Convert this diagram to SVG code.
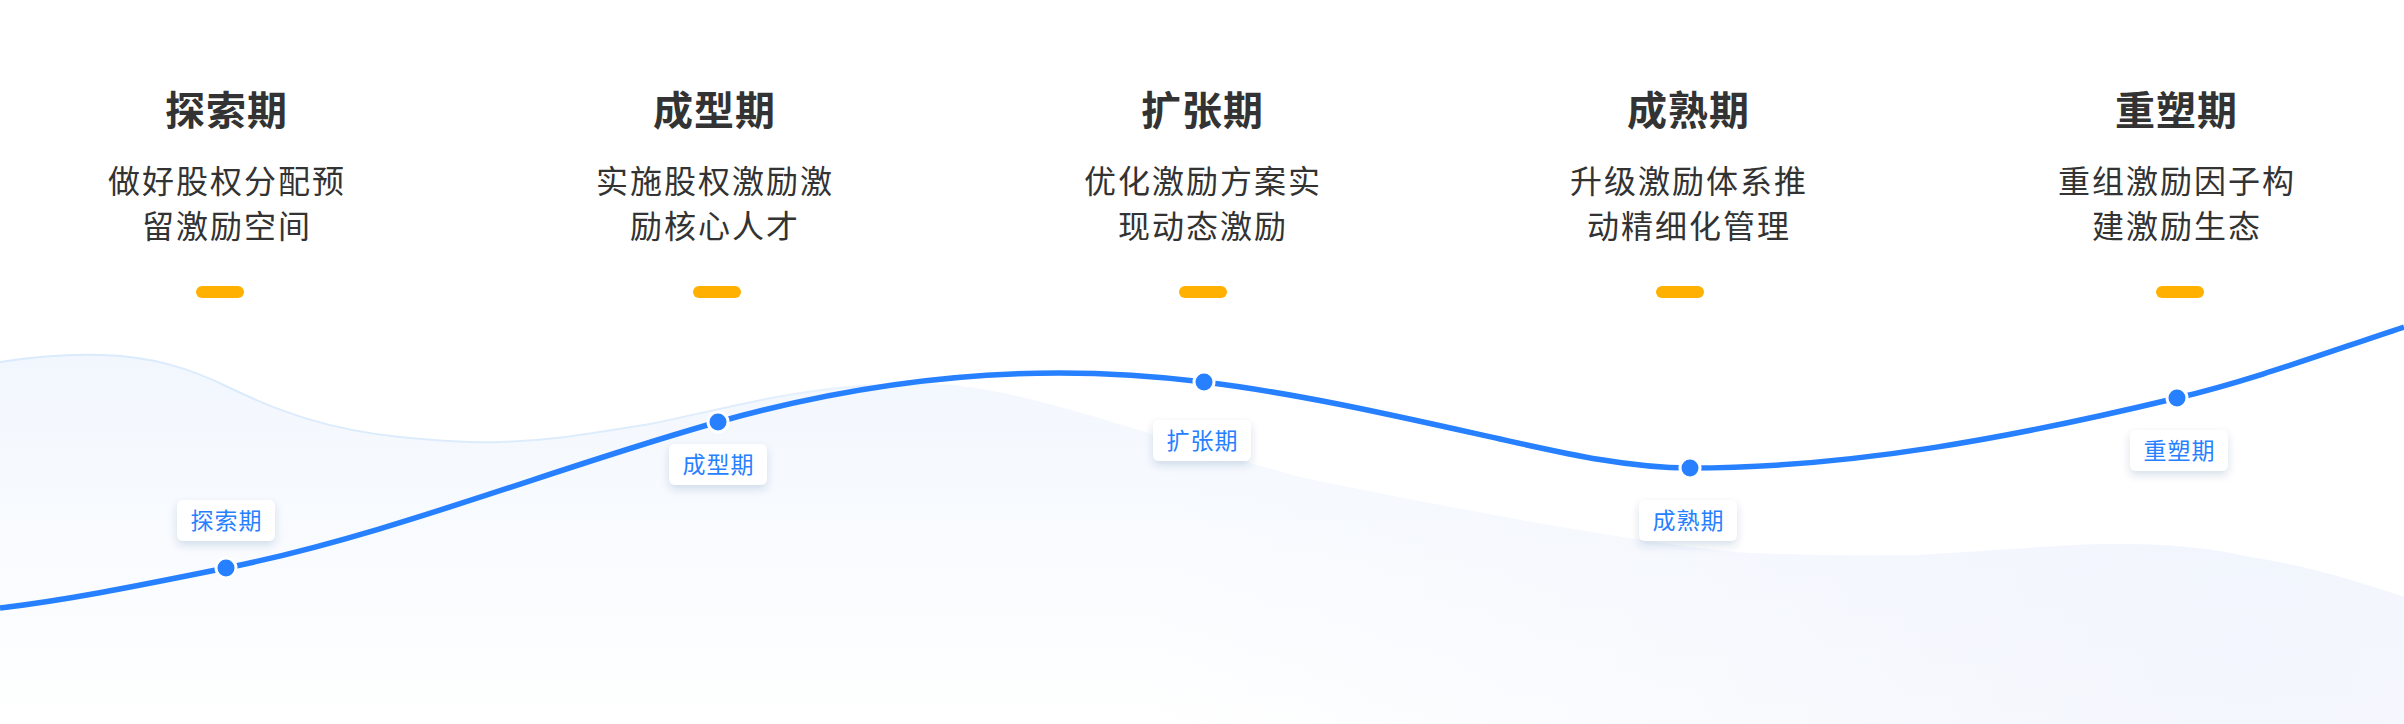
<svg xmlns="http://www.w3.org/2000/svg" width="2404" height="724" viewBox="0 0 2404 724">
<style>
.title{font-family:"Noto Sans CJK SC","Noto Sans",sans-serif;font-size:40px;font-weight:700;fill:#333333;text-anchor:middle;letter-spacing:1px}
.desc{font-family:"Noto Sans CJK SC","Noto Sans",sans-serif;font-size:32px;font-weight:400;fill:#333333;text-anchor:middle;letter-spacing:2px}
.pill{fill:#FFB000}
.lbox{fill:#FFFFFF;filter:url(#shadow)}
.ltext{font-family:"Noto Sans CJK SC","Noto Sans",sans-serif;font-size:23px;fill:#2680FF;text-anchor:middle;letter-spacing:1px}
.dot{fill:#2680FF;stroke:#FFFFFF;stroke-width:3}
.curve{fill:none;stroke:#2680FF;stroke-width:5.5}
</style>
<defs>
<linearGradient id="bgGrad" x1="0" y1="355" x2="0" y2="724" gradientUnits="userSpaceOnUse">
<stop offset="0" stop-color="#F2F7FE"/>
<stop offset="1" stop-color="#FFFFFF"/>
</linearGradient>
<radialGradient id="tint" cx="2250" cy="640" r="1100" gradientUnits="userSpaceOnUse">
<stop offset="0" stop-color="#EEF2FC" stop-opacity="0.7"/>
<stop offset="1" stop-color="#EEF2FC" stop-opacity="0"/>
</radialGradient>
<linearGradient id="edgeGrad" x1="0" y1="0" x2="1000" y2="0" gradientUnits="userSpaceOnUse">
<stop offset="0" stop-color="#D9EAFC"/>
<stop offset="0.75" stop-color="#DFEDFC"/>
<stop offset="1" stop-color="#DFEDFC" stop-opacity="0"/>
</linearGradient>
<filter id="shadow" x="-30%" y="-30%" width="160%" height="180%">
<feDropShadow dx="0" dy="4" stdDeviation="4" flood-color="#1E3C78" flood-opacity="0.16"/>
</filter>
</defs>
<rect width="2404" height="724" fill="#FFFFFF"/>
<g id="background">
<path d="M0,362 C40,356 70,354 100,355 C150,356 190,368 230,388 C280,412 330,430 400,437 C440,441 470,443 500,442 C560,440 600,432 650,424 C720,410 780,392 860,386 C900,384 930,384 960,386 C1040,395 1130,430 1300,477 C1450,508 1650,546 1750,553 C1820,556 1880,555 1913,555 C2000,551 2060,544 2117,544 C2180,544 2220,550 2250,557 C2310,566 2360,582 2404,597 L2404,724 L0,724 Z" fill="url(#bgGrad)"/>
<path d="M0,362 C40,356 70,354 100,355 C150,356 190,368 230,388 C280,412 330,430 400,437 C440,441 470,443 500,442 C560,440 600,432 650,424 C720,410 780,392 860,386 C900,384 930,384 960,386 C1040,395 1130,430 1300,477 C1450,508 1650,546 1750,553 C1820,556 1880,555 1913,555 C2000,551 2060,544 2117,544 C2180,544 2220,550 2250,557 C2310,566 2360,582 2404,597 L2404,724 L0,724 Z" fill="url(#tint)"/>
<path d="M0,362 C40,356 70,354 100,355 C150,356 190,368 230,388 C280,412 330,430 400,437 C440,441 470,443 500,442 C560,440 600,432 650,424 C720,410 780,392 860,386 C900,384 930,384 960,386" fill="none" stroke="url(#edgeGrad)" stroke-width="2"/>
</g>
<g id="connectors">
<path class="curve" d="M0,608 C75,599 151,583 226,568 C390,535 554,468 718,422 C832,390 945,373 1059,373 C1107,373 1155,376 1204,382 C1302,394 1401,417 1500,439 C1563,453 1627,468 1690,468 C1852,468 2015,437 2177,398 C2253,380 2328,352 2404,327"/>
</g>
<g id="stage-explore">
<text class="title" x="226.5" y="125">探索期</text>
<text class="desc" x="227" y="193">做好股权分配预</text>
<text class="desc" x="227" y="238">留激励空间</text>
<rect class="pill" x="196" y="286" width="48" height="12" rx="6"/>
<circle class="dot" cx="226" cy="568" r="10"/>
<rect class="lbox" x="177" y="500" width="98" height="41" rx="6"/>
<text class="ltext" x="226.5" y="529">探索期</text>
</g>
<g id="stage-form">
<text class="title" x="714.5" y="125">成型期</text>
<text class="desc" x="715" y="193">实施股权激励激</text>
<text class="desc" x="715" y="238">励核心人才</text>
<rect class="pill" x="693" y="286" width="48" height="12" rx="6"/>
<circle class="dot" cx="718" cy="422" r="10"/>
<rect class="lbox" x="669" y="444" width="98" height="41" rx="6"/>
<text class="ltext" x="718.5" y="473">成型期</text>
</g>
<g id="stage-expand">
<text class="title" x="1202.5" y="125">扩张期</text>
<text class="desc" x="1203" y="193">优化激励方案实</text>
<text class="desc" x="1203" y="238">现动态激励</text>
<rect class="pill" x="1179" y="286" width="48" height="12" rx="6"/>
<circle class="dot" cx="1204" cy="382" r="10"/>
<rect class="lbox" x="1153" y="420" width="98" height="41" rx="6"/>
<text class="ltext" x="1202.5" y="449">扩张期</text>
</g>
<g id="stage-mature">
<text class="title" x="1688.5" y="125">成熟期</text>
<text class="desc" x="1689" y="193">升级激励体系推</text>
<text class="desc" x="1689" y="238">动精细化管理</text>
<rect class="pill" x="1656" y="286" width="48" height="12" rx="6"/>
<circle class="dot" cx="1690" cy="468" r="10"/>
<rect class="lbox" x="1639" y="500" width="98" height="41" rx="6"/>
<text class="ltext" x="1688.5" y="529">成熟期</text>
</g>
<g id="stage-reshape">
<text class="title" x="2176.5" y="125">重塑期</text>
<text class="desc" x="2177" y="193">重组激励因子构</text>
<text class="desc" x="2177" y="238">建激励生态</text>
<rect class="pill" x="2156" y="286" width="48" height="12" rx="6"/>
<circle class="dot" cx="2177" cy="398" r="10"/>
<rect class="lbox" x="2130" y="430" width="98" height="41" rx="6"/>
<text class="ltext" x="2179.5" y="459">重塑期</text>
</g>
</svg>
